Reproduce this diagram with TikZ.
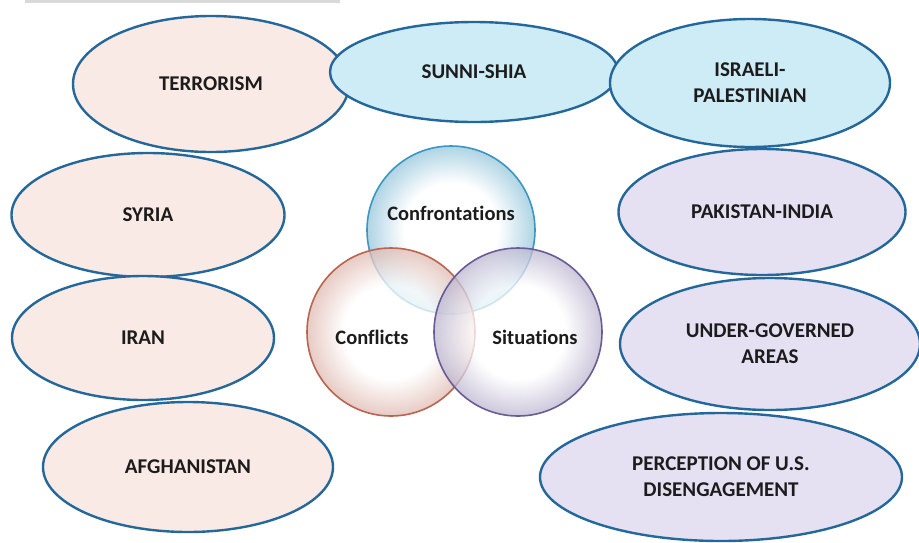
\documentclass[tikz,border=0pt]{standalone}
\usepackage{fontspec}
\setmainfont{Carlito}[Ligatures=NoCommon]
\usetikzlibrary{shapes}

\definecolor{rimblue}{RGB}{36,104,155}
\definecolor{peach}{RGB}{250,234,229}
\definecolor{skyfill}{RGB}{206,236,246}
\definecolor{lavender}{RGB}{229,225,243}
\definecolor{confrim}{RGB}{60,150,190}
\definecolor{conflrim}{RGB}{185,100,80}
\definecolor{siturim}{RGB}{105,92,150}
\definecolor{inktext}{RGB}{28,28,28}

\pgfdeclareradialshading{confshade}{\pgfpoint{0bp}{0bp}}{color(0bp)=(white); color(14bp)=(white); color(25bp)=(confrim!55); color(50bp)=(confrim!55)}
\pgfdeclareradialshading{conflshade}{\pgfpoint{0bp}{0bp}}{color(0bp)=(white); color(14bp)=(white); color(25bp)=(conflrim!45); color(50bp)=(conflrim!45)}
\pgfdeclareradialshading{situshade}{\pgfpoint{0bp}{0bp}}{color(0bp)=(white); color(14bp)=(white); color(25bp)=(siturim!45); color(50bp)=(siturim!45)}

\begin{document}
\begin{tikzpicture}[x=1pt,y=-1pt]
                \tikzstyle{topic}=[ellipse, draw=rimblue, line width=2.4pt, inner sep=0pt, align=center, text=inktext, font=\fontsize{21}{26}\selectfont\bfseries]
                \tikzstyle{region}=[topic, fill=peach]
                \tikzstyle{rivalry}=[topic, fill=skyfill]
                \tikzstyle{risk}=[topic, fill=lavender]
                \tikzstyle{venn}=[circle, minimum size=168pt, inner sep=0pt, line width=1.6pt, shade, fill opacity=0.75]
                \tikzstyle{venntext}=[text=inktext, font=\fontsize{20.5}{24}\selectfont\bfseries]

                \useasboundingbox (0,0) rectangle (919,542);
                \fill[black!15] (25,0) rectangle (340,3);

                % top row
                \node[region, minimum width=276pt, minimum height=136pt] (terror) at (211,84) {TERRORISM};
                \node[rivalry, minimum width=288pt, minimum height=100pt] (sunni) at (474,72) {SUNNI-SHIA};
                \node[rivalry, minimum width=280pt, minimum height=128pt] (israeli) at (750,83) {ISRAELI-\\PALESTINIAN};

                % left column
                \node[region, minimum width=273pt, minimum height=124pt] (syria) at (148,215) {SYRIA};
                \node[region, minimum width=262pt, minimum height=124pt] (iran) at (143,338) {IRAN};
                \node[region, minimum width=290pt, minimum height=130pt] (afghan) at (188,467) {AFGHANISTAN};

                % right column
                \node[risk, minimum width=287pt, minimum height=126pt] (pakind) at (762,212) {PAKISTAN-INDIA};
                \node[risk, minimum width=300pt, minimum height=132pt] (ungov) at (770,344) {UNDER-GOVERNED\\AREAS};
                \node[risk, minimum width=362pt, minimum height=128pt] (usdis) at (721,477) {PERCEPTION OF U.S.\\DISENGAGEMENT};

                % venn in the middle
                \node[venn, draw=confrim, shading=confshade] (confr) at (451,230) {};
                \node[venn, draw=conflrim, shading=conflshade] (confl) at (391,332) {};
                \node[venn, draw=siturim, shading=situshade] (situ) at (518,332) {};

                \node[venntext] (confrlab) at (451,213) {Confrontations};
                \node[venntext] (confllab) at (372,337) {Conflicts};
                \node[venntext] (situlab) at (535,337) {Situations};
\end{tikzpicture}
\end{document}
